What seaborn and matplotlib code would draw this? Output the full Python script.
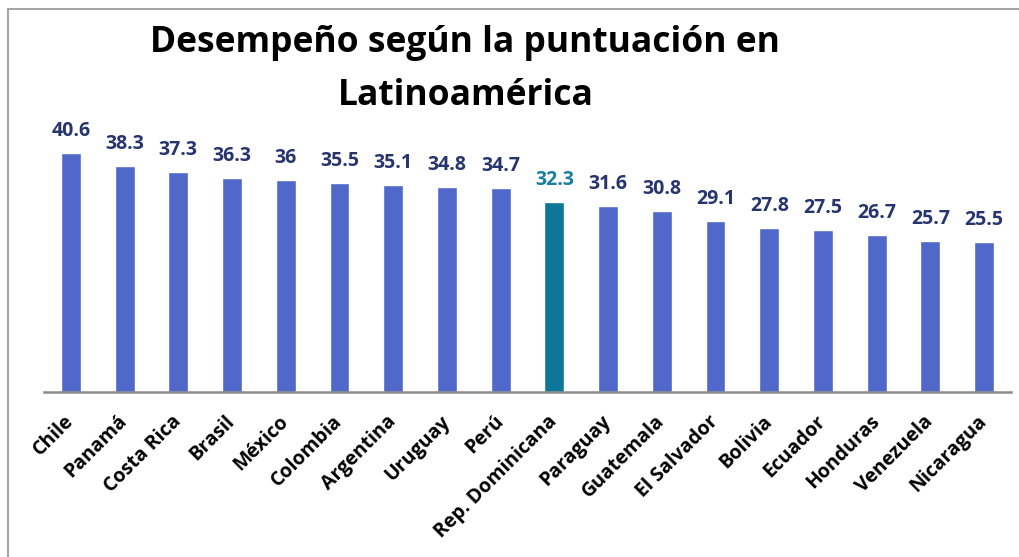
import matplotlib
matplotlib.use("Agg")
import matplotlib.pyplot as plt
import seaborn as sns
import pandas as pd

countries = ["Chile", "Panamá", "Costa Rica", "Brasil", "México", "Colombia",
             "Argentina", "Uruguay", "Perú", "Rep. Dominicana", "Paraguay",
             "Guatemala", "El Salvador", "Bolivia", "Ecuador", "Honduras",
             "Venezuela", "Nicaragua"]
scores = [40.6, 38.3, 37.3, 36.3, 36, 35.5, 35.1, 34.8, 34.7, 32.3, 31.6,
          30.8, 29.1, 27.8, 27.5, 26.7, 25.7, 25.5]
value_labels = ["40.6", "38.3", "37.3", "36.3", "36", "35.5", "35.1", "34.8",
                "34.7", "32.3", "31.6", "30.8", "29.1", "27.8", "27.5", "26.7",
                "25.7", "25.5"]
highlight = "Rep. Dominicana"
title_lines = ["Desempeño según la puntuación en", "Latinoamérica"]

sns.set_theme(style="white")
plt.rcParams['font.family'] = ['Open Sans', 'DejaVu Sans']

bar_color = "#5068C9"
hl_color = "#0E7799"
label_color = "#27356F"
hl_label_color = "#1A7E9E"

df = pd.DataFrame({"country": countries, "score": scores})
palette = {c: (hl_color if c == highlight else bar_color) for c in countries}

fig = plt.figure(figsize=(10.19, 5.57), dpi=100)
ax = fig.add_axes([44/1019, 1-392/557, (1011-44)/1019, (392-100)/557])

sns.barplot(data=df, x="country", y="score", hue="country", palette=palette,
            legend=False, width=0.37, saturation=1, ax=ax)

ax.set_xlim(-0.5, len(countries) - 0.5)
ax.set_ylim(0, 292/5.89)

for i, (v, lab, c) in enumerate(zip(scores, value_labels, countries)):
    ax.annotate(lab, xy=(i, v), xytext=(0, 17), textcoords="offset pixels",
                ha="center", va="baseline", fontsize=14, fontweight="bold",
                color=hl_label_color if c == highlight else label_color)

ax.set_xlabel("")
ax.set_ylabel("")
ax.set_yticks([])
for s in ["top", "right", "left"]:
    ax.spines[s].set_visible(False)
ax.spines["bottom"].set_color("#8C8C8C")
ax.spines["bottom"].set_linewidth(1.8)
ax.tick_params(axis="x", length=0, pad=19)
ax.set_xticks(range(len(countries)))
ax.set_xticklabels(countries, rotation=45, ha="right", va="center",
                   rotation_mode="anchor", fontsize=14, fontweight="bold",
                   color="black")

fig.text(465/1019, 1-52/557, title_lines[0], ha="center", va="baseline",
         fontsize=25.5, fontweight="bold", color="black")
fig.text(466/1019, 1-105/557, title_lines[1], ha="center", va="baseline",
         fontsize=25.5, fontweight="bold", color="black")

# chart border (left and top edges visible)
fig.add_artist(plt.Line2D([8/1019, 8/1019], [0, 1-9/557], transform=fig.transFigure,
                          color="#A6A6A6", linewidth=1.5))
fig.add_artist(plt.Line2D([8/1019, 1], [1-9/557, 1-9/557], transform=fig.transFigure,
                          color="#A6A6A6", linewidth=1.5))

fig.savefig("out.png", dpi=100)
